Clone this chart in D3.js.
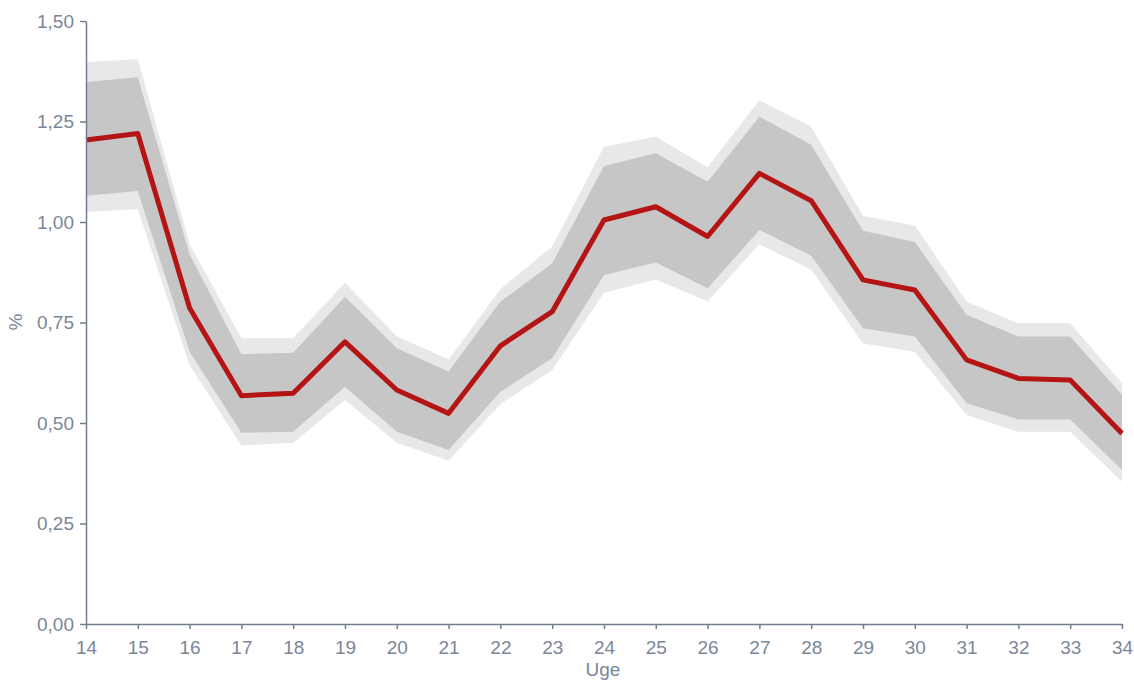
<!DOCTYPE html>
<html><head><meta charset="utf-8">
<script src="https://cdn.jsdelivr.net/npm/d3@7"></script>
<style>body{margin:0;background:#fff;} svg{display:block;font-family:"Liberation Sans",Arial,sans-serif;}</style>
</head><body>
<svg id="c" width="1134" height="680"></svg>
<script>
const weeks = [14,15,16,17,18,19,20,21,22,23,24,25,26,27,28,29,30,31,32,33,34];
const mid =     [1.204,1.220,0.786,0.568,0.574,0.702,0.582,0.524,0.692,0.777,1.005,1.038,0.964,1.121,1.053,0.856,0.831,0.657,0.611,0.607,0.474];
const innerHi = [1.348,1.360,0.920,0.671,0.675,0.814,0.686,0.628,0.802,0.897,1.139,1.171,1.100,1.262,1.192,0.978,0.950,0.769,0.715,0.715,0.570];
const innerLo = [1.065,1.077,0.677,0.476,0.478,0.590,0.478,0.433,0.578,0.661,0.868,0.899,0.835,0.980,0.916,0.736,0.715,0.549,0.509,0.509,0.383];
const outerHi = [1.398,1.405,0.945,0.711,0.711,0.849,0.716,0.658,0.833,0.939,1.187,1.212,1.136,1.303,1.237,1.015,0.991,0.802,0.748,0.748,0.599];
const outerLo = [1.025,1.032,0.644,0.444,0.451,0.557,0.451,0.406,0.547,0.632,0.824,0.857,0.802,0.945,0.881,0.698,0.677,0.520,0.478,0.478,0.354];
const yTicks = [0,0.25,0.5,0.75,1.0,1.25,1.5];

const svg = d3.select("#c");
const x = d3.scaleLinear().domain([14,34]).range([86,1122]);
const y = d3.scaleLinear().domain([0,1.5]).range([624,21]);
const axisCol = "#737c8c", textCol = "#7c8698";

const area = (lo,hi) => d3.area().x((d,i)=>x(weeks[i])).y0((d,i)=>y(lo[i])).y1((d,i)=>y(hi[i]));
svg.append("path").datum(weeks).attr("d", area(outerLo,outerHi)).attr("fill","#e8e8e8");
svg.append("path").datum(weeks).attr("d", area(innerLo,innerHi)).attr("fill","#c6c6c6");
svg.append("path").datum(weeks)
  .attr("d", d3.line().x((d,i)=>x(weeks[i])).y((d,i)=>y(mid[i])))
  .attr("fill","none").attr("stroke","#b41414").attr("stroke-width",5).attr("stroke-linejoin","round");

const fmt = d => d.toFixed(2).replace(".",",");
const gx = svg.append("g").attr("transform","translate(0,624)")
  .call(d3.axisBottom(x).tickValues(weeks).tickFormat(d3.format("d")).tickSize(5).tickSizeOuter(0));
const gy = svg.append("g").attr("transform","translate(86,0)")
  .call(d3.axisLeft(y).tickValues(yTicks).tickFormat(fmt).tickSize(6).tickSizeOuter(0));
[gx,gy].forEach(g=>{
  g.select(".domain").attr("stroke",axisCol).attr("stroke-width",1.5);
  g.selectAll(".tick line").attr("stroke",axisCol).attr("stroke-width",1.5);
  g.selectAll(".tick text").attr("fill",textCol).attr("font-size",19).attr("font-family","Liberation Sans, Arial, sans-serif");
});
gx.selectAll(".tick text").attr("dy","0.71em").attr("y",17);
gy.selectAll(".tick text").attr("x",-12);

svg.append("text").attr("x",603).attr("y",676).attr("text-anchor","middle")
  .attr("fill",textCol).attr("font-size",19).text("Uge");
svg.append("text").attr("transform","translate(22,322) rotate(-90)").attr("text-anchor","middle")
  .attr("fill",textCol).attr("font-size",19).text("%");
</script>
</body></html>
